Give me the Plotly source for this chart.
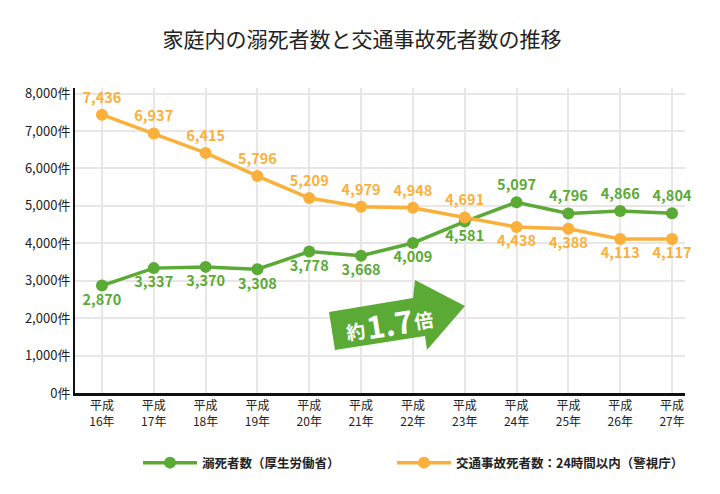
import plotly.graph_objects as go

years = ["平成<br>16年", "平成<br>17年", "平成<br>18年", "平成<br>19年", "平成<br>20年", "平成<br>21年",
         "平成<br>22年", "平成<br>23年", "平成<br>24年", "平成<br>25年", "平成<br>26年", "平成<br>27年"]
drowning = [2870, 3337, 3370, 3308, 3778, 3668, 4009, 4581, 5097, 4796, 4866, 4804]
traffic = [7436, 6937, 6415, 5796, 5209, 4979, 4948, 4691, 4438, 4388, 4113, 4117]
drown_pos = ["bottom center"] * 8 + ["top center"] * 4
traffic_pos = ["top center"] * 8 + ["bottom center"] * 4
yticks = [0, 1000, 2000, 3000, 4000, 5000, 6000, 7000, 8000]
yticklabels = [f"{v:,}件" for v in yticks]

GREEN = "#5aaa35"
ORANGE = "#fbb03b"
FONT = "Noto Sans CJK JP"

x = list(range(len(years)))

fig = go.Figure()
fig.add_trace(go.Scatter(
    x=x, y=drowning, mode="lines+markers+text", name="溺死者数（厚生労働省）",
    line=dict(color=GREEN, width=3.5), marker=dict(color=GREEN, size=12),
    text=[f"{v:,}" for v in drowning], textposition=drown_pos,
    textfont=dict(color=GREEN, size=14.5, family=FONT, weight=600),
    cliponaxis=False, legend="legend", showlegend=True,
))
fig.add_trace(go.Scatter(
    x=x, y=traffic, mode="lines+markers+text", name="交通事故死者数：24時間以内（警視庁）",
    line=dict(color=ORANGE, width=3.5), marker=dict(color=ORANGE, size=12),
    text=[f"{v:,}" for v in traffic], textposition=traffic_pos,
    textfont=dict(color=ORANGE, size=14.5, family=FONT, weight=600),
    cliponaxis=False, legend="legend2", showlegend=True,
))

# page offset of the plotly div (body margin)
OFF = 8
# plot area in window pixels
L, R, T, B = 75, 685, 88, 393
W, H = 720, 494


def px(xp, yp):
    return (xp - L) / (R - L), (B - yp) / (B - T)


arrow_px = [(329, 312), (413, 298), (415, 280), (465, 306), (427, 350), (425, 336), (335, 350)]
pts = [px(a, b) for a, b in arrow_px]
path = "M " + " L ".join(f"{a:.4f},{b:.4f}" for a, b in pts) + " Z"

arrow_text = [("約", 355, 330, 19), ("1.7", 389, 322, 31), ("倍", 423, 319, 19)]
annots = []
for t, xp, yp, fs in arrow_text:
    ax, ay = px(xp, yp)
    annots.append(dict(x=ax, y=ay, xref="paper", yref="paper", showarrow=False, textangle=-9,
                       xanchor="center", yanchor="middle", text=t,
                       font=dict(color="white", family=FONT, size=fs, weight=700)))

legend_common = dict(orientation="h", xanchor="left", yanchor="middle", y=px(0, 463)[1],
                     font=dict(size=12.5, family=FONT, color="#222222", weight=600),
                     itemwidth=54, bgcolor="rgba(0,0,0,0)", visible=True)

fig.update_layout(
    width=W - OFF, height=H - OFF,
    margin=dict(l=L - OFF, r=W - R, t=T - OFF, b=H - B),
    plot_bgcolor="white", paper_bgcolor="white",
    font=dict(family=FONT, color="#222222"),
    showlegend=True,
    title=dict(text="家庭内の溺死者数と交通事故死者数の推移", x=(362 - OFF) / (W - OFF), xanchor="center",
               y=1 - (40 - OFF) / (H - OFF), yanchor="middle",
               font=dict(size=21, family=FONT, color="#222222")),
    xaxis=dict(
        tickmode="array", tickvals=x, ticktext=years, range=[-0.52, 11.25],
        showgrid=True, gridcolor="#e8e6e6", gridwidth=1.5, zeroline=False,
        showline=True, linecolor="#111111", linewidth=2.5,
        tickfont=dict(size=12, family=FONT, color="#222222"), ticks="",
    ),
    yaxis=dict(
        tickmode="array", tickvals=yticks, ticktext=yticklabels, range=[0, 8150],
        showgrid=True, gridcolor="#e8e6e6", gridwidth=1.5, zeroline=False,
        showline=True, linecolor="#111111", linewidth=2,
        tickfont=dict(size=13, family=FONT, color="#222222"), ticks="",
    ),
    legend=dict(x=px(138, 0)[0], **legend_common),
    legend2=dict(x=px(392, 0)[0], **legend_common),
    shapes=[dict(type="path", path=path, xref="paper", yref="paper",
                 fillcolor=GREEN, line=dict(width=0), layer="above")],
    annotations=annots,
)

fig.write_html("out.html")
